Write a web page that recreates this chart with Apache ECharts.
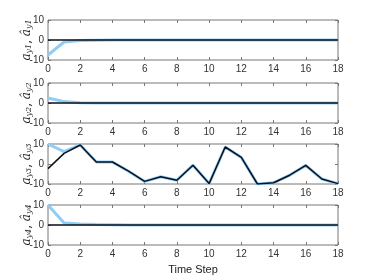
<!DOCTYPE html>
<html><head><meta charset="utf-8">
<script src="https://cdn.jsdelivr.net/npm/echarts@6/dist/echarts.min.js"></script>
<style>html,body{margin:0;padding:0;background:#fff}#c{width:374px;height:280px}</style>
</head><body><div id="c"></div>
<script>
var timeSteps = [0,1,2,3,4,5,6,7,8,9,10,11,12,13,14,15,16,17,18];
var xTicks = [0,2,4,6,8,10,12,14,16,18];
var yTicks = [-10,0,10];
// true values (black) and estimates (light blue)
var ay1 = [0,0,0,0,0,0,0,0,0,0,0,0,0,0,0,0,0,0,0];
var ay1Hat = [-7.5,-1,-0.3,-0.1,0,0,0,0,0,0,0,0,0,0,0,0,0,0,0];
var ay2 = [0,0,0,0,0,0,0,0,0,0,0,0,0,0,0,0,0,0,0];
var ay2Hat = [2.5,0.7,0.1,0,0,0,0,0,0,0,0,0,0,0,0,0,0,0,0];
var ay3 = [-2.3,5.3,9.5,1,1,-3.6,-8.7,-6.4,-8.1,-0.6,-9.8,8.5,3.3,-10,-9.4,-5.6,-0.7,-7.5,-9.8];
var ay3Hat = [10,6.2,9.5,1,1,-3.6,-8.7,-6.4,-8.1,-0.6,-9.8,8.5,3.3,-10,-9.4,-5.6,-0.7,-7.5,-9.8];
var ay4 = [0,0,0,0,0,0,0,0,0,0,0,0,0,0,0,0,0,0,0];
var ay4Hat = [10,1,0.5,0.2,0.1,0,0,0,0,0,0,0,0,0,0,0,0,0,0];
var idx = ['1','2','3','4'];
var trueSets = [ay1, ay2, ay3, ay4];
var hatSets = [ay1Hat, ay2Hat, ay3Hat, ay4Hat];

var tops = [20, 83, 144, 205];
var H = 40;
var grids = [], xAxes = [], yAxes = [], series = [];
function pairs(arr){ return timeSteps.map(function(t,i){ return [t, arr[i]]; }); }
var rich = {
  i: {fontFamily:'DejaVu Serif', fontStyle:'italic', fontSize:12, color:'#222'},
  s: {fontFamily:'DejaVu Serif', fontStyle:'italic', fontSize:8, color:'#222', verticalAlign:'bottom', padding:[5,0,0,0]},
  n: {fontFamily:'DejaVu Serif', fontSize:12, color:'#222'}
};
for (var k=0;k<4;k++){
  grids.push({left:48, right:36, top:tops[k], height:H, show:true, borderColor:'#777', borderWidth:1, backgroundColor:'#fff'});
  xAxes.push({gridIndex:k, type:'value', min:0, max:18, interval:2, position:'bottom',
    axisLine:{show:false, onZero:false}, splitLine:{show:false},
    axisTick:{inside:true, length:3, lineStyle:{color:'#777'}},
    axisLabel:{fontSize:10, color:'#333', fontFamily:'Liberation Sans', margin:4,
      formatter:function(v){ return xTicks.indexOf(v)>=0 ? String(v) : ''; }},
    name: k===3 ? 'Time Step' : '', nameLocation:'middle', nameGap:19, nameMoveOverlap:false,
    nameTextStyle:{fontSize:11, color:'#222', fontFamily:'Liberation Sans'}});
  xAxes.push({gridIndex:k, type:'value', min:0, max:18, interval:2, position:'top',
    axisLine:{show:false, onZero:false}, splitLine:{show:false}, axisLabel:{show:false},
    axisTick:{inside:true, length:3, lineStyle:{color:'#777'}}});
  yAxes.push({gridIndex:k, type:'value', min:-10, max:10, interval:10,
    axisLine:{show:false, onZero:false}, splitLine:{show:false},
    axisTick:{inside:true, length:3, lineStyle:{color:'#777'}},
    axisLabel:{fontSize:10, color:'#333', fontFamily:'Liberation Sans', margin:4,
      formatter:function(v){ return yTicks.indexOf(v)>=0 ? String(v) : ''; }},
    name:'{i|a}{s|y'+idx[k]+'}{n|, }{i|â}{s|y'+idx[k]+'}', nameLocation:'middle', nameRotate:90, nameGap:15,
    nameMoveOverlap:false, nameTextStyle:{rich:rich}});
  yAxes.push({gridIndex:k, type:'value', min:-10, max:10, interval:10, position:'right',
    axisLine:{show:false, onZero:false}, splitLine:{show:false}, axisLabel:{show:false},
    axisTick:{inside:true, length:3, lineStyle:{color:'#777'}}});
  series.push({type:'line', xAxisIndex:2*k, yAxisIndex:2*k, data:pairs(hatSets[k]), symbol:'none',
    lineStyle:{color:'#8fcdf7', width:3}, z:2, silent:true});
  series.push({type:'line', xAxisIndex:2*k, yAxisIndex:2*k, data:pairs(trueSets[k]), symbol:'none',
    lineStyle:{color:'#0b0f1a', width:1.5}, z:3, silent:true});
}
var chart = echarts.init(document.getElementById('c'), null, {renderer:'canvas'});
chart.setOption({animation:false, backgroundColor:'#fff', grid:grids, xAxis:xAxes, yAxis:yAxes, series:series});
</script></body></html>
